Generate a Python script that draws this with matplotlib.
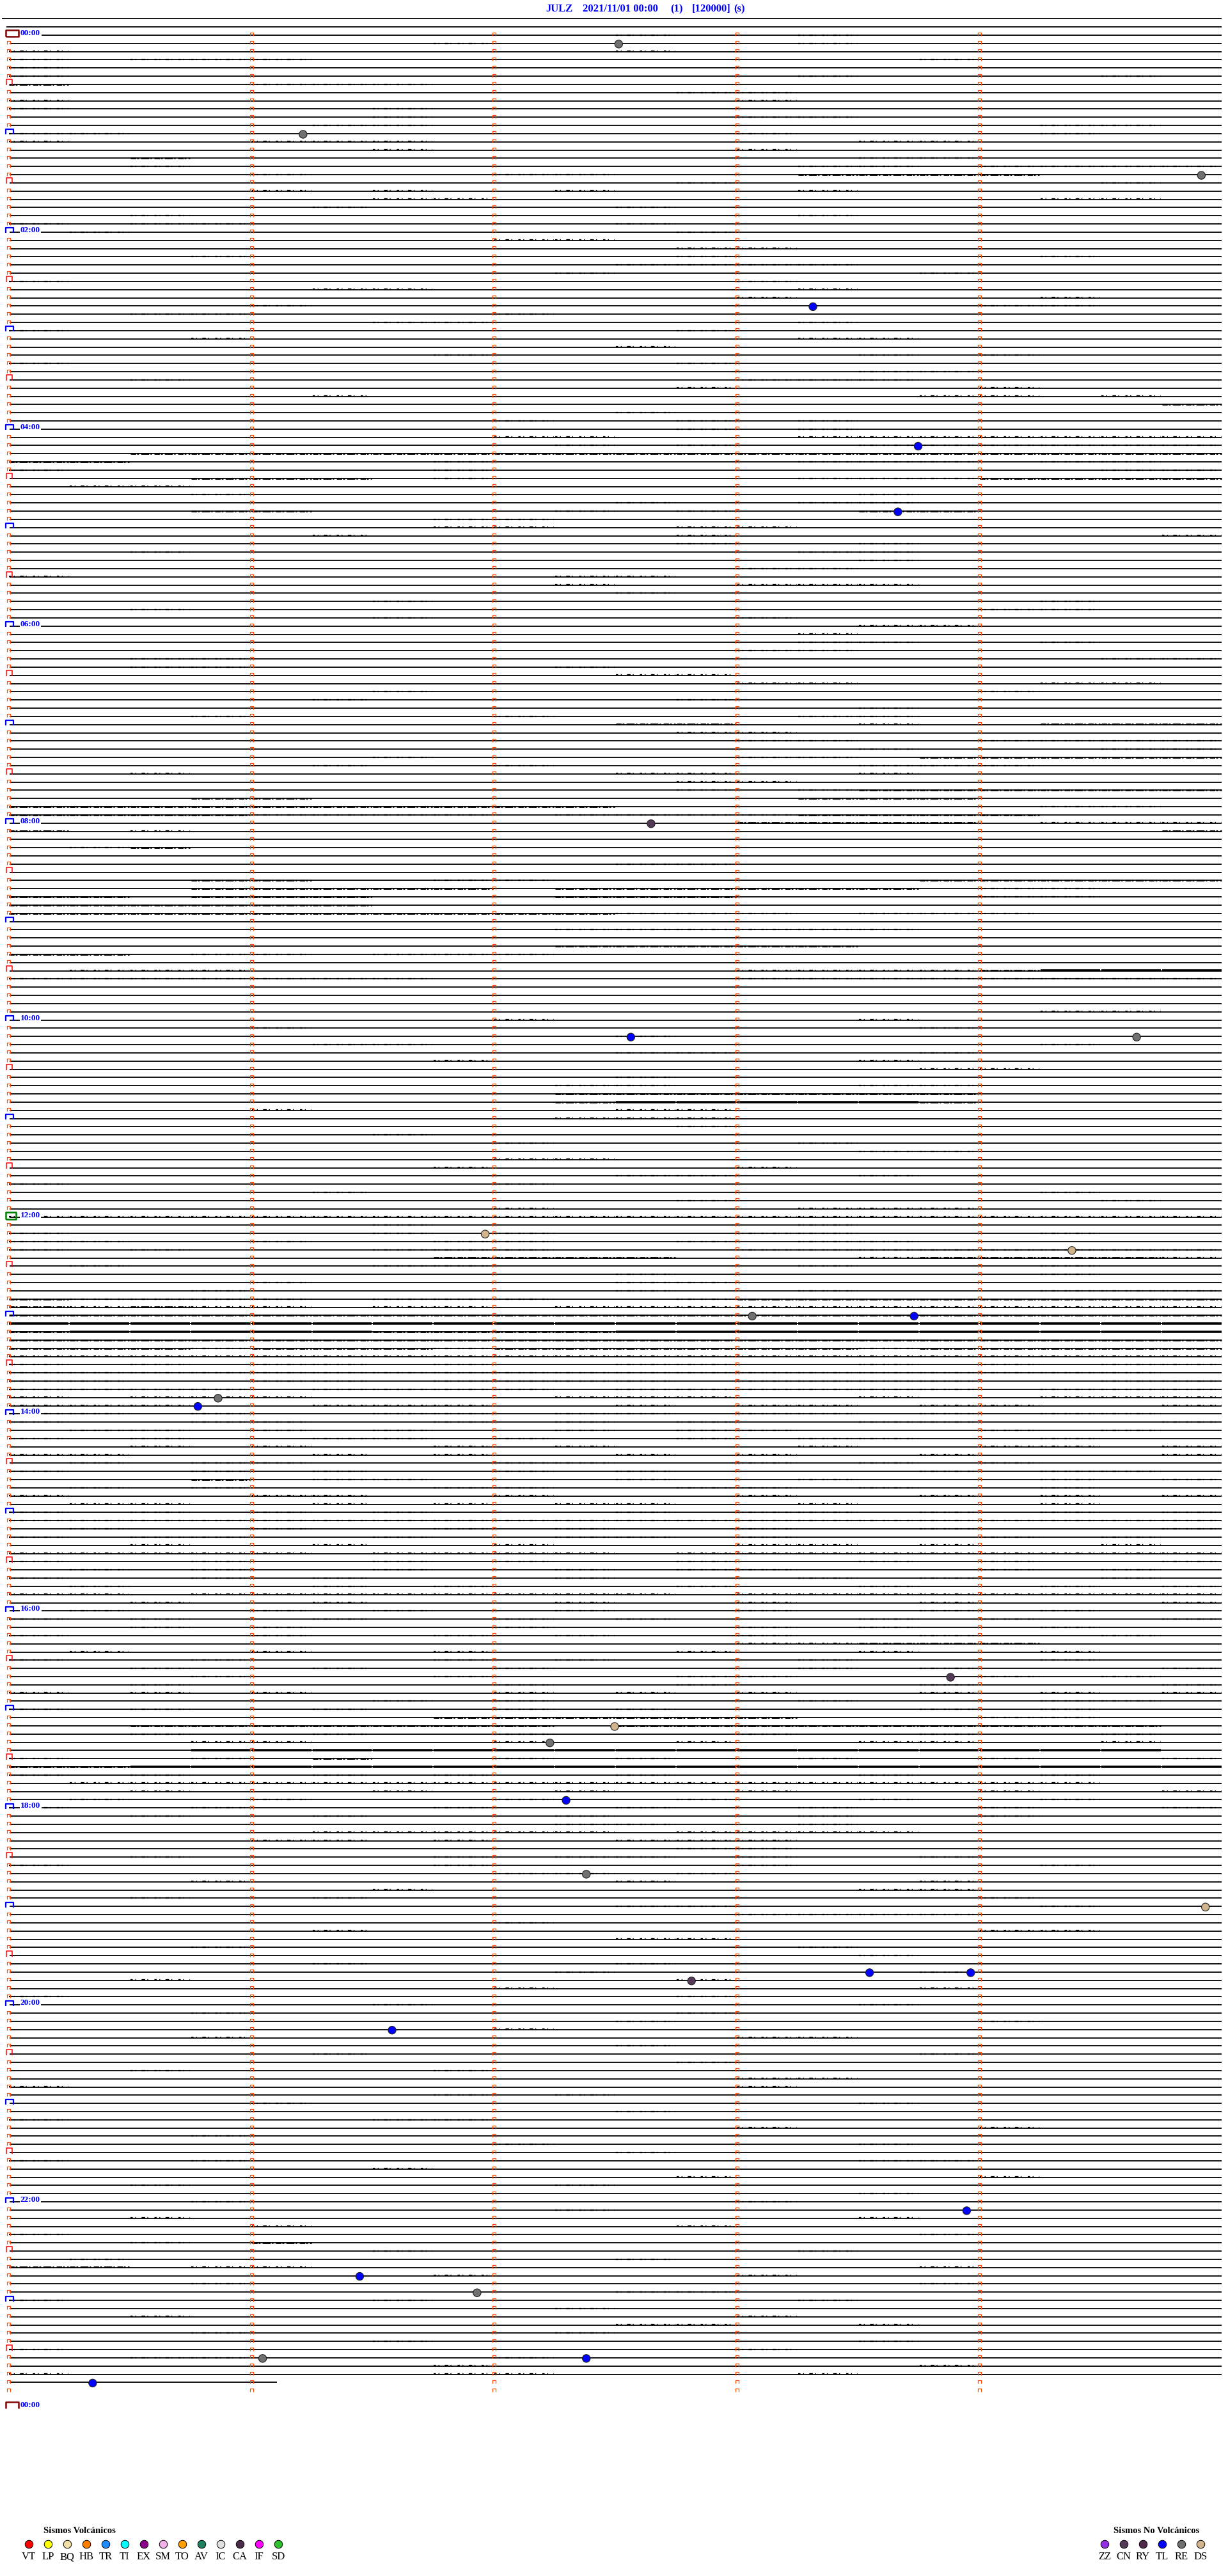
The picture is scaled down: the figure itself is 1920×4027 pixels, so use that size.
import matplotlib
matplotlib.use('Agg')
import matplotlib.pyplot as plt
from matplotlib.collections import LineCollection

# --- page geometry (pixels) -------------------------------------------------
W, H = 1920, 4027
X0, PX_MIN = 12, 379.6      # x pixel of minute 0, pixels per minute
Y0, PX_ROW = 55, 12.83      # y pixel of row 0, pixels per row
ROW_MIN = 5                 # minutes per trace row
N_ROWS = 288

# --- data ---------------------------------------------------------------------
header_parts = ["JULZ", "2021/11/01 00:00", "(1)", "[120000]", "(s)"]
header_x = [853, 911, 1048, 1082, 1147]

last_row = 286              # last row holding data (23:50)
last_row_end = 1.11         # minutes of data on that row

event_times = ["00:07:31", "01:01:13", "01:29:55", "02:48:19", "04:13:45",
               "04:53:40", "08:02:39", "10:12:34", "10:14:39", "12:11:58",
               "12:24:23", "13:03:04", "13:03:44", "13:50:52", "13:55:47",
               "16:43:53", "17:12:30", "17:22:14", "17:57:18", "18:42:23",
               "19:04:56", "19:43:33", "19:43:58", "19:47:49", "20:16:35",
               "22:08:57", "22:46:27", "22:56:56", "23:36:03", "23:37:23",
               "23:50:21"]
event_types = ["RE", "RE", "RE", "TL", "TL", "TL", "CN", "TL", "RE", "DS",
               "DS", "RE", "TL", "RE", "TL", "CN", "DS", "RE", "TL", "RE",
               "DS", "TL", "TL", "CN", "TL", "TL", "TL", "RE", "RE", "TL",
               "TL"]

volc_codes = ["VT", "LP", "BQ", "HB", "TR", "TI", "EX", "SM", "TO", "AV",
              "IC", "CA", "IF", "SD"]
volc_colors = ["#ff0000", "#ffff00", "#f0e0a8", "#ff8000", "#1e8cff",
               "#00ffff", "#8c008c", "#f0b0e8", "#ffa000", "#1e8060",
               "#e0e0e0", "#4a2c48", "#ff00ff", "#30c030"]
novolc_codes = ["ZZ", "CN", "RY", "TL", "RE", "DS"]
novolc_colors = ["#9030e0", "#553a58", "#50284c", "#0000ff", "#707070",
                 "#d2b48c"]

# trace activity: row -> 20 cells of 15 s
# '.' quiet, '1' sparse wiggles, '2' dense wiggles, '3' thick band
activity = {
    0: "..........1..1......", 1: ".......1.....1......", 2: "1.........1.........",
    3: "1.111..........1....", 4: "1...................", 5: "1............1....1.",
    6: "2...111.............", 7: "...........11.......", 8: "1...........1.......",
    9: "1.....1.............", 10: "......1.....11......", 11: ".....11..........11.",
    12: "11..........1....1..", 13: "1...111.......11....", 14: "......1.....1.......",
    15: "..2...........11....", 16: "..1..........11.1111", 17: "....1...11...2222...",
    18: "...........1......1.", 19: "....1.1..1...1......", 20: "......11.........11.",
    21: ".....1....1.........", 22: "..1..........1......", 23: "1.11......1.........",
    24: ".1.........1........", 25: "........11..........", 26: "...........11.......",
    27: "...1.......1.....1..", 28: "..........1111......", 29: ".........1.....1....",
    30: "1...........1.......", 31: ".....11......1......", 32: "............1....1..",
    33: "....1...........11..", 34: "..11....1...........", 35: "......11.....1......",
    36: "1..........1........", 37: "...1.........11.....", 38: "..........1.........",
    39: ".......1......1.1...", 40: "1..........1........", 41: "..............11....",
    42: "..1.........111.....", 43: "...........1....1...", 44: ".....1.........11.1.",
    45: "...................2", 46: "..........1.........", 47: "........1..1.1......",
    48: "...........1.1......", 49: "........11...1111111", 50: ".........1.1..111111",
    51: "..222222222222222222", 52: "22.....1.....111.11.", 53: "1......1..........11",
    54: "...222.1.....1112222", 55: ".11.................", 56: "...1..........1.....",
    57: "..........1..11.....", 58: "...22....1.1..22....", 59: ".......11...........",
    60: ".......11..11.......", 61: ".....1.....1.......1", 62: "...........1..1.....",
    63: "..1..........11.....", 64: "..............1.....", 65: "............11......",
    66: "1........11.........", 67: ".........1..111.....", 68: "..........1.........",
    69: "......1..........1..", 70: "..1.............11..", 71: "......1.....1.......",
    72: "..............11....", 73: ".............1......", 74: ".............11..1..",
    75: "............11......", 76: "..11..............11", 77: "..11.....1..........",
    78: "..........11........", 79: "............11...11.", 80: "......1.........1...",
    81: ".....1.....1........", 82: "..............1.....", 83: "...1....1....11.....",
    84: "..........22..1..222", 85: "...........11.......", 86: "............11..1111",
    87: "..............1...11", 88: "......1.....11.22222", 89: ".....1..1.....111...",
    90: "..1.......11..1.....", 91: "...........11.......", 92: "...........1.1222222",
    93: "...22........222....", 94: "2222222222.......11.", 95: "22221111.11112222...",
    96: "............2222.111", 97: "2.1................2", 99: ".12.................",
    101: "..........11........", 103: "...22..11......22222", 104: "...22222.222222.11..",
    105: "22.222...222....11..", 106: "222222..............", 107: "2222222222111.111...",
    109: ".........111111.....", 111: ".........22222......", 112: "22.11.111...........",
    114: ".111........11112333", 115: "1111111.....11111111", 119: ".................11.",
    120: "........1.....1.....", 121: "....1..........1....", 122: "..........1.........",
    123: ".....11..........1..", 124: "..........11...1....", 125: ".......1......1.....",
    126: "...............11...", 127: "..........1.........", 128: ".........11...11....",
    129: ".........2222222....", 130: ".........2333332....", 131: "....1.....11........",
    132: ".........111........", 133: "...........1........", 134: "......1.............",
    135: "........1....1......", 136: "..............11....", 137: "........11..........",
    138: ".......1....1.......", 139: "..........11..1.....", 140: "1.......1...........",
    141: ".....1...........1..", 142: "...........1......1.", 143: "........1....111....",
    144: "11111111111111111111", 145: "......1......1......", 146: "1.....1.1...11...1..",
    147: "11..1..11..1.11.....", 148: "1.1...111...11111111", 149: ".......2222...122221",
    150: ".1....11.....1...1..", 151: "..........1......1..", 152: "....1.....11........",
    153: "...1......1..1...111", 154: "21111.111..122222222", 155: "21211.11.11111111111",
    156: "22222222222222222222", 157: "33333333333333333333", 158: "23333322223333333333",
    159: "22222222222222222222", 160: "22212221222222122222", 161: "11111111111111111111",
    162: "1.1.11.1..11..1.1.11", 163: "1111111111111111111.", 164: "11..11.1111.1111..11",
    165: "1111.1111.111111.111", 166: "1.111....111..1..111", 167: "111..111..1.11.11..1",
    168: "11.1..11.11.11.1.11.", 169: "1..11..1.1.1..11...1", 170: ".11.1.1..1.11...1.1.",
    171: "1.1..11.1..1.11..1..", 172: "..1.1..1.1...1..11.1", 173: "11...1.1..1.1..1...1",
    174: ".1.11...11..1.1.1...", 175: "1..1.1..1.1....1.11.", 176: "...2.11...1..1...1.1",
    177: ".1.1...11..11.1..1..", 178: "1...11..1...1..1.1.1", 179: ".11..1.1.11..1...1..",
    180: "1.1.1.1...1.11.1.1.1", 181: "11111111111111111111", 182: ".1..1..1.1..1..1...1",
    183: "1.11..1..11.1...1.1.", 184: "..1..1..1...11.1..1.", 185: "11111.1111.111111111",
    186: "1..1..1.1..1..1.1..1", 187: ".1.1..1..1.11...1.1.", 188: "1..1.1...1...1.1..1.",
    189: ".1...1.1...1..1..1.1", 190: "11.11111111.11111111", 191: "..1..1...1..1..1...1",
    192: ".1..1.1..1..1..1.1..", 193: "1.1..1..1.1...1.1..1", 194: "..1.1...1...1.1..1..",
    195: "1...1..1.1..1..1..1.", 196: "............11222...", 197: ".1..1..1...1..1..1..",
    198: "1..1...1.1...1...1..", 199: "..1..1..1....1.1...1", 200: "...1...1...11...1.1.",
    201: "..1.....1..1...1...1", 202: "1.1.1...1.1.1..1.1.1", 203: "......1.1....1...11.",
    204: "1.1..1..1.1....1.1..", 205: ".......222222...11..", 206: "..2222222.222222222..",
    207: "..1..1..1...1..1..1.", 208: "...11...1..1..11..1.", 209: "...3333333333333333..",
    210: "1..1.2..1.1..1..1..1", 211: "22333333333333333333", 212: "1.1..1.1..1...1..1..",
    213: ".11111111111111111..", 214: "..1...1..1..1...1..1", 215: ".1..1...1..1..1..1..",
    216: "1..1...1..1..1..1..1", 217: "..1..1...1...1..1...", 218: ".........11..1......",
    219: ".....11111.1111.....", 220: "....11.1..111.......", 221: "...........11.......",
    222: "..1....1.11.1..1....", 223: "1......1....1....1..", 224: "........11.1........",
    225: "...1......1....1....", 226: "......1.......11....", 227: "..1..1..........1...",
    228: "..........11.....1..", 229: "............1111....", 230: "........1...........",
    231: ".....1..........11..", 232: "..........11........", 233: "...1.........1......",
    234: "..............1.....", 235: ".....1....1.........", 236: ".........1.....1....",
    237: "..1........1........", 238: "........1......1....", 239: "1..........1........",
    240: "......1.......1.....", 241: "...1.......1........", 242: "..........1.....1...",
    243: "........1...........", 244: "...1........11......", 245: "..........1.........",
    246: ".....1.........1....", 247: "...........1........", 248: "..1....1............",
    249: "............11......", 250: "1...........1.......", 251: ".......1.1..........",
    252: "....1.........1.....", 253: "..........1.........", 254: "1.....11............",
    255: "............1...1...", 256: "...1................", 257: "........1.....1.....",
    258: "..........1.........", 259: "1..1..........11....", 260: "......1.............",
    261: "...........1....1...", 262: "..1......1..........", 263: "..............1.....",
    264: "...1........1.......", 265: ".........1..........", 266: "..1...........1.....",
    267: "....1......1........", 268: "1..............1....", 269: "..1.2...............",
    270: "......1......1......", 271: ".1........1.........", 272: "22.11..........1....",
    273: ".......1....1.......", 274: "...1...........1....", 275: "..........11........",
    276: "1.....1......1......", 277: ".........1..........", 278: "..1.........1.......",
    279: "..........11..1.....", 280: "...1.....1..........", 281: "......1.......1.....",
    282: "1...........1.......", 283: "..11....1...........", 284: ".......1.......1....",
    285: "1......11....1......",
}

# --- figure -------------------------------------------------------------------
plt.rcParams['lines.scale_dashes'] = False
fig = plt.figure(figsize=(W / 100, H / 100), dpi=100, facecolor='white')
ax = fig.add_axes([0, 0, 1, 1])
ax.set_xlim(-X0 / PX_MIN, (W - X0) / PX_MIN)
ax.set_ylim((H - Y0) / PX_ROW, -Y0 / PX_ROW)
ax.axis('off')

dx = 1 / PX_MIN     # one pixel in minutes
dy = 1 / PX_ROW     # one pixel in rows
x_end = (1910 - X0) / PX_MIN

# base traces
segs = [[(-9 * dx, -2), (x_end, -2)], [(-2 * dx, -1), (x_end, -1)]]
for r in range(last_row + 1):
    xs = 53 * dx if r == 0 else 3 * dx
    xe = last_row_end if r == last_row else x_end
    segs.append([(xs, r), (xe, r)])
ax.add_collection(LineCollection(segs, colors='black', linewidths=1.3, zorder=2))

# activity on the traces (irregular dash patterns stand in for the wiggles)
styles = {'1': (1.6, (0, (2.5, 3, 1, 6, 4, 2.5, 1, 7))),
          '2': (2.0, (0, (6, 1.2, 2, 2.5, 9, 1.5, 1.5, 3))),
          '3': (2.6, 'solid')}
for lvl, (lw, ls) in styles.items():
    act = []
    for r, cells in activity.items():
        xe_row = last_row_end if r == last_row else 5.0
        for i, ch in enumerate(cells[:20]):
            if ch == lvl and i * 0.25 < xe_row:
                act.append([(i * 0.25 + 2 * dx, r - 0.3 * dy),
                            (min((i + 1) * 0.25, xe_row), r - 0.3 * dy)])
    if act:
        ax.add_collection(LineCollection(act, colors='black', linewidths=lw,
                                         linestyles=[ls], zorder=2))

# minute marks
def cap(x, r, w, h, below=1.5):
    return [(x - w / 2 * dx, r + below * dy), (x - w / 2 * dx, r - (h - below) * dy),
            (x + w / 2 * dx, r - (h - below) * dy), (x + w / 2 * dx, r + below * dy)]

small = []
for r in range(N_ROWS):
    for c in range(5):
        if c == 0 and r % 6 == 0:
            continue
        small.append(cap(c + 1.5 * dx, r, 5, 5))
ax.add_collection(LineCollection(small, colors='#ff4a00', linewidths=0.9, zorder=3))

half = [cap(2.5 * dx, r, 9, 9) for r in range(6, N_ROWS, 12)]
ax.add_collection(LineCollection(half, colors='#ff0000', linewidths=1.1, zorder=3))
hours = [cap(3 * dx, r, 12, 8) for r in range(12, N_ROWS, 12) if r != 144]
ax.add_collection(LineCollection(hours, colors='#0000ff', linewidths=1.6, zorder=3))

# day / noon boxes
box_day = [(-3 * dx, 2 * dy), (-3 * dx, -8 * dy), (17 * dx, -8 * dy),
           (17 * dx, 2 * dy), (-3 * dx, 2 * dy)]
ax.add_collection(LineCollection([box_day], colors='#800000', linewidths=1.8, zorder=3))
ax.add_collection(LineCollection([[(x, N_ROWS + 1 + y) for x, y in box_day[:4]]],
                                 colors='#800000', linewidths=1.8, zorder=3))
box_noon = [(-3 * dx, 3 * dy), (-3 * dx, -8 * dy), (13 * dx, -8 * dy),
            (13 * dx, 3 * dy), (-3 * dx, 3 * dy)]
ax.add_collection(LineCollection([[(x, 144 + y) for x, y in box_noon]],
                                 colors='#008000', linewidths=1.8, zorder=3))

# hour labels
for r in list(range(0, N_ROWS, 24)) + [N_ROWS + 1]:
    h = (r // 12) % 24
    ax.text(20 * dx, r - 3 * dy, f"{h:02d}:00", color='#0000ff', fontsize=9.6,
            fontweight='bold', family='Liberation Serif', ha='left', va='center',
            zorder=4, bbox=dict(boxstyle='square,pad=0.1', fc='white', ec='none'))

# events
def t2pos(t):
    hh, mm, ss = (int(v) for v in t.split(':'))
    m = hh * 60 + mm + ss / 60
    return m % ROW_MIN, int(m // ROW_MIN)

colmap = dict(zip(volc_codes + novolc_codes, volc_colors + novolc_colors))
ex, ey = zip(*(t2pos(t) for t in event_times))
ax.scatter(ex, [y + 1 * dy for y in ey], s=78, c=[colmap[k] for k in event_types],
           edgecolors='#202020', linewidths=0.8, zorder=5)

# header
for txt, x in zip(header_parts, header_x):
    fig.text(x / W, 1 - 14 / H, txt, color='#0000ff', fontsize=12, fontweight='bold',
             family='Liberation Serif', ha='left', va='center')

# legends
def legend(codes, colors, x_first, title, title_x):
    fig.text(title_x / W, 1 - 3957 / H, title, fontsize=10.5, fontweight='bold',
             family='Liberation Serif', ha='center', va='center')
    for k, (code, col) in enumerate(zip(codes, colors)):
        xp = (x_first + 30 * k) / W
        fig.lines.append(plt.Line2D([xp], [1 - 3977 / H], marker='o', markersize=9,
                                    markerfacecolor=col, markeredgecolor='black',
                                    markeredgewidth=0.7, transform=fig.transFigure))
        fig.text(xp, 1 - 3997 / H, code, fontsize=12, family='Liberation Serif',
                 ha='center', va='center')

legend(volc_codes, volc_colors, 45, "Sismos Volcánicos", 124)
legend(novolc_codes, novolc_colors, 1727, "Sismos No Volcánicos", 1808)

fig.savefig('out.png', dpi=100, facecolor='white')
